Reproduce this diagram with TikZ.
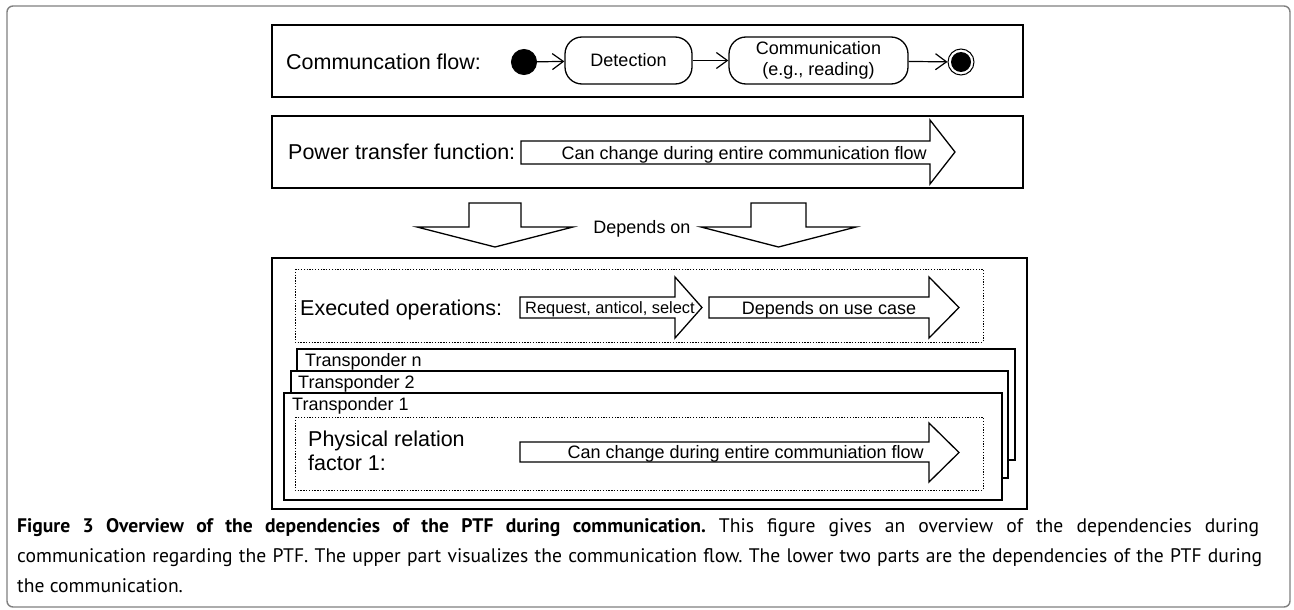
\documentclass[tikz,border=0pt]{standalone}
\usepackage{fontspec}
\setmainfont{Liberation Sans}
\newfontfamily\capfont{PT Sans}
\usetikzlibrary{arrows.meta}
\begin{document}
\frenchspacing
\begin{tikzpicture}[x=1pt,y=-1pt,
  outerframe/.style={draw=black!50, line width=1.4pt, rounded corners=6pt},
  frame/.style={draw, line width=1.3pt},
  tbox/.style={draw, line width=1.2pt, fill=white},
  dotbox/.style={draw, line width=1pt, dash pattern=on 1.3pt off 1.5pt},
  blockarrow/.style={draw, line width=1.3pt, fill=white, line join=miter},
  lbl/.style={anchor=west, inner sep=0pt, text height=15.5pt, text depth=0pt, font=\fontsize{21.5}{24}\selectfont},
  small/.style={inner sep=0pt, text height=13pt, text depth=0pt, font=\fontsize{18}{21}\selectfont},
  tiny/.style={inner sep=0pt, text height=11.8pt, text depth=0pt, font=\fontsize{16.4}{19}\selectfont},
  statebox/.style={draw, line width=1.3pt, rounded corners=17pt, minimum height=47pt, align=center, inner sep=0pt, font=\fontsize{18}{21}\selectfont},
  flow/.style={line width=1.2pt, -{Straight Barb[length=11pt,width=16pt,line width=1.2pt]}},
]
\useasboundingbox (0,0) rectangle (1294,610);
\draw[outerframe] (7,6) rectangle (1290,607);

% communication flow
\draw[frame] (272,25) rectangle (1023,97);
\node[lbl] (cfl) at (286,62) {Communcation flow:};
\node[circle, fill=black, draw, line width=1pt, minimum size=25pt, inner sep=0pt] (start) at (524,62) {};
\node[statebox, minimum width=127pt] (det) at (628.5,60.5) {Detection};
\node[statebox, minimum width=179pt] (comm) at (818.5,60.5) {Communication\\(e.g., reading)};
\node[circle, draw, line width=1pt, fill=white, minimum size=26pt, inner sep=0pt] (end) at (961,62) {};
\fill[black] (end.center) circle (10pt);
\draw[flow] (start) -- (det);
\draw[flow] (det) -- (comm);
\draw[flow] (comm) -- (end);

% power transfer function
\draw[frame] (272,116) rectangle (1023,188);
\node[lbl] (ptfl) at (288,152) {Power transfer function:};
\draw[blockarrow] (521,141) -- (930,141) -- (930,120) -- (955,152) -- (930,184) -- (930,164) -- (521,164) -- cycle;
\node[small, anchor=east] (ptft) at (927,152.5) {Can change during entire communication flow};

% depends on
\draw[blockarrow] (469,203) -- (521,203) -- (521,227) -- (573,227) -- (495,247) -- (417,227) -- (469,227) -- cycle;
\draw[blockarrow] (751,203) -- (806,203) -- (806,227) -- (856,227) -- (778.5,247) -- (701,227) -- (751,227) -- cycle;
\node[small] (dep) at (642,227) {Depends on};

% lower part
\draw[frame] (272,258) rectangle (1027,509);
\draw[dotbox] (295,269) rectangle (983,342);
\node[lbl] (exl) at (300,308) {Executed operations:};
\draw[blockarrow] (520,297) -- (675,297) -- (675,277) -- (702,307.5) -- (675,338) -- (675,318) -- (520,318) -- cycle;
\node[tiny, anchor=west] (req) at (525,307.5) {Request, anticol, select};
\draw[blockarrow] (709,297) -- (929,297) -- (929,277) -- (959,307.5) -- (929,338) -- (929,318) -- (709,318) -- cycle;
\node[small] (duc) at (829,307.5) {Depends on use case};

\draw[tbox] (297,349) rectangle (1015,460);
\node[small, anchor=west] (tn) at (305,360) {Transponder n};
\draw[tbox] (291,371) rectangle (1008,478);
\node[small, anchor=west] (t2) at (298,382) {Transponder 2};
\draw[tbox] (284,393) rectangle (1002,500);
\node[small, anchor=west] (t1) at (292,404) {Transponder 1};

\draw[dotbox] (295,417) rectangle (983,490);
\node[anchor=west, inner sep=0pt, align=left, font=\fontsize{21.5}{24}\selectfont] (phl) at (308,451) {Physical relation\\factor 1:};
\draw[blockarrow] (520,442) -- (929,442) -- (929,423) -- (959,452.5) -- (929,482) -- (929,462) -- (520,462) -- cycle;
\node[small, anchor=east] (pht) at (924,452) {Can change during entire communiation flow};

% caption
\node[anchor=north west, inner sep=0pt, align=left, font=\capfont\fontsize{19.6}{30}\selectfont] (cap) at (17,518) {\makebox[1242pt][s]{\textbf{Figure 3 Overview of the dependencies of the PTF during communication.} This figure gives an overview of the dependencies during}\\\makebox[1245pt][s]{communication regarding the PTF. The upper part visualizes the communication flow. The lower two parts are the dependencies of the PTF during}\\the communication.};
\end{tikzpicture}
\end{document}
